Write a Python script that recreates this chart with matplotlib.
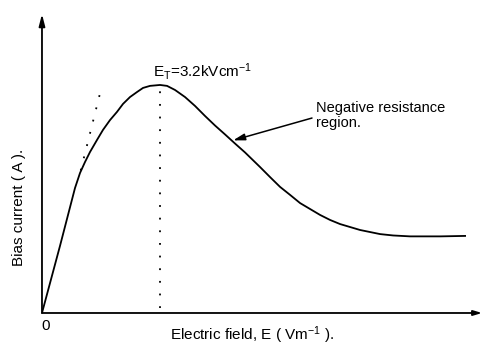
import matplotlib
matplotlib.use("Agg")
import matplotlib.pyplot as plt

plt.rcParams["font.family"] = ["Liberation Sans", "DejaVu Sans"]
plt.rcParams["mathtext.fontset"] = "custom"
plt.rcParams["mathtext.rm"] = "Liberation Sans"
plt.rcParams["mathtext.default"] = "regular"

# bias current vs electric field (arbitrary current units, peak = 1)
field = [0.0, 0.488, 0.895, 1.031, 1.166, 1.302, 1.492, 1.654, 1.844, 2.034,
         2.197, 2.386, 2.576, 2.739, 2.929, 3.2, 3.39, 3.607, 3.878, 4.149,
         4.42, 4.692, 4.963, 5.234, 5.505, 5.912, 6.183, 6.454, 6.725,
         6.997, 7.268, 7.539, 7.81, 8.081, 8.623, 9.166, 9.518, 9.98, 10.8, 11.47]
current = [0.0, 0.294, 0.548, 0.614, 0.662, 0.706, 0.759, 0.803, 0.846, 0.882,
           0.917, 0.947, 0.969, 0.987, 0.996, 1.0, 0.996, 0.978, 0.947, 0.908,
           0.864, 0.822, 0.783, 0.743, 0.704, 0.64, 0.596, 0.553, 0.518,
           0.482, 0.456, 0.43, 0.408, 0.39, 0.364, 0.346, 0.34, 0.336, 0.336, 0.338]

# extension of the initial linear part
tangent_x = [1.05, 1.63]
tangent_y = [0.625, 1.0]

E_T = 3.2
peak_current = 1.0

fig = plt.figure(figsize=(4.82, 3.46), dpi=100)
ax = fig.add_axes([0.0871, 0.0954, 0.913, 0.864])
ax.set_xlim(0, 11.93)
ax.set_ylim(0, 1.311)
ax.axis("off")

ax.plot(field, current, color="black", lw=1.3, solid_joinstyle="round")
ax.plot(tangent_x, tangent_y, color="black", lw=1.3, ls=(0, (1, 6)))
ax.plot([E_T, E_T], [0.02, peak_current - 0.01], color="black", lw=1.3, ls=(0, (1, 6)))

# axes drawn as arrows
ax.annotate("", xy=(0, 1), xytext=(0, 0), xycoords="axes fraction",
            arrowprops=dict(arrowstyle="-|>,head_length=0.7,head_width=0.18",
                            color="black", lw=1.3, shrinkA=0, shrinkB=0))
ax.annotate("", xy=(1, 0), xytext=(0, 0), xycoords="axes fraction",
            arrowprops=dict(arrowstyle="-|>,head_length=0.5,head_width=0.15",
                            color="black", lw=1.3, shrinkA=0, shrinkB=0))

ax.text(3.0, 1.035, r"$E_T$=3.2kVcm$^{-1}$", fontsize=11,
        ha="left", va="baseline")

ax.annotate("", xy=(5.18, 0.757), xytext=(7.32, 0.855),
            arrowprops=dict(arrowstyle="-|>,head_length=0.7,head_width=0.2",
                            color="black", lw=1.1, shrinkA=0, shrinkB=0))
ax.text(7.42, 0.93, "Negative resistance\nregion.", fontsize=10.5,
        ha="left", va="top", linespacing=1.1)

fig.text(46 / 482, 1 - 326 / 346, "0", fontsize=11, ha="center", va="center")
fig.text(252 / 482, 1 - 335 / 346, r"Electric field, E ( Vm$^{-1}$ ).",
         fontsize=11, ha="center", va="center")
fig.text(19 / 482, 1 - 207 / 346, "Bias current ( A ).", fontsize=11,
         ha="center", va="center", rotation=90)

fig.savefig("out.png", dpi=100)
